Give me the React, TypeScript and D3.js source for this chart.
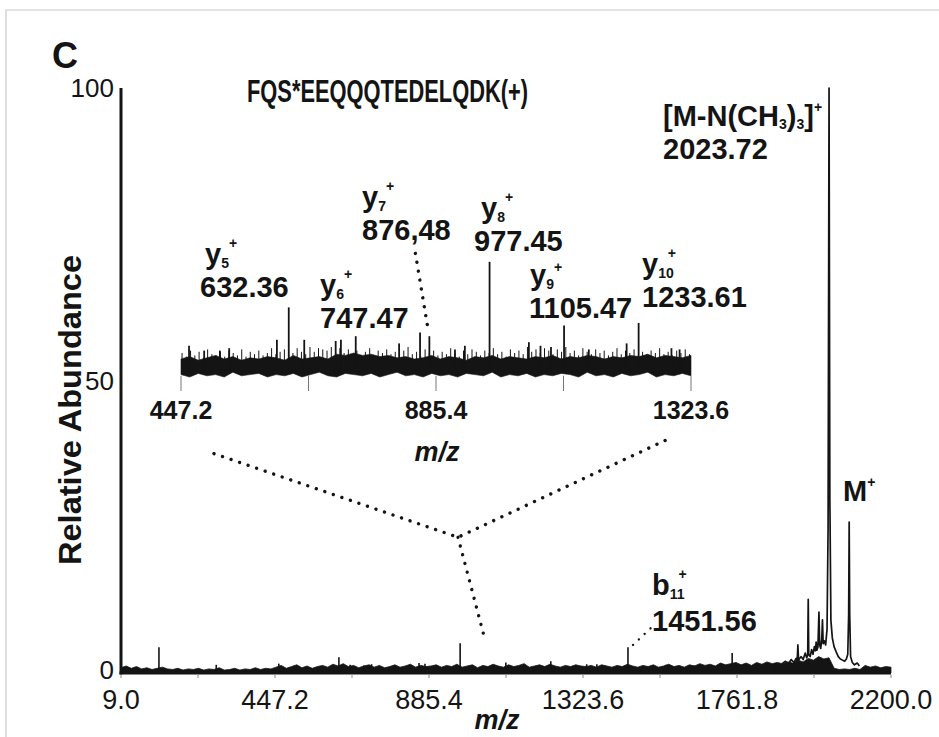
import React from 'react';
import * as d3 from 'd3';

const FONT = "'Liberation Sans', Arial, Helvetica, sans-serif";

// ---- axes ----
const xTicks = [9, 447.2, 885.4, 1323.6, 1761.8, 2200];
const xTickLabels = ['9.0', '447.2', '885.4', '1323.6', '1761.8', '2200.0'];
const xMinorTicks = [228.1, 666.3, 1104.5, 1542.7, 1980.9];
const yTicks = [0, 50, 100];
const yTickLabels = ['0', '50', '100'];
const insetTicks = [447.2, 666.3, 885.4, 1104.5, 1323.6];
const insetLabelTicks = [447.2, 885.4, 1323.6];
const insetLabels = ['447.2', '885.4', '1323.6'];

// ---- main spectrum: isolated peaks [m/z, %] ----
const mainSticks: [number, number][] = [
  [117, 4.4], [280, 1.4], [458, 1.6], [629, 2.7], [661, 1.4], [700, 1.3], [722, 1.5],
  [857, 1.7], [874, 1.6], [974, 5.1], [1104, 1.8], [1232, 2.0], [1334, 1.5], [1363, 1.5],
  [1451.56, 4.4], [1560, 1.4], [1640, 1.3], [1748, 3.4], [1820, 1.6], [1870, 1.7],
];

// ---- main spectrum: cluster profile near the precursor [m/z, %] ----
const clusterProfile: [number, number][] = [
  [1890, 1.6], [1900, 2.0], [1908, 1.5], [1916, 2.3], [1924, 1.8], [1930, 2.5], [1933, 2.0],
  [1935, 4.8], [1937, 2.2], [1944, 2.8], [1950, 2.3], [1956, 3.4], [1960, 2.6], [1963, 3.0],
  [1964.5, 12.6], [1966, 3.2], [1970, 2.8], [1974, 4.0], [1978, 3.2], [1982, 4.5], [1985, 3.8],
  [1987, 5.3], [1989, 3.9], [1992, 4.4], [1995, 10.4], [1997, 4.8], [2000, 4.2], [2003, 5.8],
  [2005, 9.1], [2007, 5.0], [2010, 5.5], [2014, 4.8], [2018, 7.5], [2021, 25], [2023.72, 100],
  [2026, 30], [2029, 9], [2033, 6.0], [2038, 4.5], [2044, 3.6], [2050, 2.8], [2056, 2.4],
  [2062, 2.2], [2068, 2.0], [2073, 2.4], [2077, 3.2], [2079.5, 10], [2081, 25.8], [2082.5, 10],
  [2085, 2.8], [2090, 1.8], [2096, 1.4], [2104, 1.7], [2110, 1.2],
];

// ---- main spectrum: baseline noise, evenly sampled from 9 to 2200 (%) ----
const mainNoise: number[] = [
  0.9, 1.2, 0.8, 1.1, 0.7, 0.9, 0.6, 0.8, 1.0, 0.7, 0.6, 0.8, 0.5, 0.7, 0.6, 0.8, 0.5, 0.7, 0.6, 0.9, 0.5, 0.6, 0.8, 0.5, 0.7, 0.6, 0.9, 0.6, 0.8, 0.7,
  1.0, 1.3, 0.8, 1.1, 1.4, 0.9, 1.2, 0.8, 1.1, 1.3, 1.0, 1.5, 1.2, 1.6, 1.1, 1.3, 0.9, 1.2, 1.4, 1.0, 1.3, 0.9, 1.1, 1.4, 1.0, 1.2, 1.5, 1.0, 1.3, 1.1,
  1.2, 1.4, 1.0, 1.3, 1.1, 1.5, 1.0, 1.2, 1.4, 0.9, 1.3, 1.1, 1.5, 1.2, 1.0, 1.4, 1.1, 1.3, 1.6, 1.0, 1.2, 1.4, 1.1, 1.5, 1.2, 1.0, 1.3, 1.1, 1.4, 1.2,
  1.1, 1.3, 1.0, 1.4, 1.2, 1.0, 1.3, 1.1, 1.5, 1.2, 1.0, 1.3, 1.1, 1.4, 1.0, 1.2, 1.5, 1.1, 1.3, 1.0, 1.4, 1.2, 1.6, 1.3, 1.5, 1.2, 1.7, 1.4, 1.6, 1.8,
  1.4, 1.7, 1.3, 1.8, 1.5, 1.9, 1.6, 1.8, 1.6, 1.9, 1.7, 2.2, 1.9, 2.5, 2.2, 2.8, 2.4, 2.6, 0.8, 0.6, 0.7, 0.6, 0.8, 0.6, 1.3, 1.0, 1.2, 0.9, 1.1, 1.0,
];

// ---- inset (447.2 - 1323.6) ----
const insetPeaks: [number, number][] = [
  [461, 26], [487, 22], [514, 22], [530, 24], [612, 31], [632.36, 58], [659, 31], [713, 30],
  [722, 31], [747.47, 34], [822, 28], [858, 37], [874, 34], [918, 23], [935, 26], [977.45, 96],
  [1045, 29], [1065, 26], [1083, 25], [1105.47, 43], [1148, 23], [1213, 28], [1233.61, 45],
  [1290, 24], [1304, 23],
];
// solid band (evenly sampled): upper edge and lower edge, %
const insetBandTop: number[] = [
  15, 17, 14, 16, 18, 15, 17, 14, 16, 15, 17, 16, 14, 18, 15, 16, 17, 15, 19, 18,
  20, 18, 19, 17, 18, 16, 17, 15, 16, 18, 15, 17, 16, 14, 17, 16, 18, 15, 17, 16,
  15, 17, 16, 18, 15, 17, 16, 18, 17, 15, 17, 16, 18, 17, 19, 16, 18, 17, 16, 18,
];
const insetBandBottom: number[] = [
  2, 0, 3, 1, 2, 0, 4, 1, 2, 3, 0, 2, 1, 3, 0, 2, 4, 1, 0, 3,
  2, 1, 3, 0, 2, 4, 1, 2, 0, 3, 1, 2, 0, 3, 2, 1, 4, 0, 2, 1,
  3, 0, 2, 1, 3, 2, 0, 4, 1, 2, 0, 3, 1, 2, 4, 0, 2, 1, 3, 1,
];
// hairline noise spikes above the band (evenly sampled), %
const insetSpikes: number[] = [
  20, 17, 22, 18, 21, 16, 23, 19, 18, 21, 17, 22, 20, 18, 23, 17, 21, 19, 22, 18,
  20, 24, 19, 21, 23, 22, 20, 24, 21, 19, 25, 21, 24, 23, 22, 25, 21, 24, 20, 23,
  19, 22, 18, 21, 24, 17, 22, 20, 23, 19, 21, 18, 22, 25, 19, 21, 17, 23, 20, 22,
  18, 21, 19, 24, 20, 17, 22, 19, 23, 21, 18, 22, 20, 24, 19, 21, 17, 23, 20, 22,
  19, 25, 21, 23, 20, 24, 22, 19, 23, 21, 25, 20, 22, 18, 24, 21, 19, 23, 20, 22,
  18, 21, 24, 19, 22, 20, 23, 18, 21, 19, 22, 20, 24, 19, 21, 18, 22, 20, 23, 19,
];

const INK = '#141414';

function IonLabel(props: {
  x: number; y: number; ion: string; sub: string; mass: string;
  ionDx?: number; gap?: number; plusDy?: number;
}) {
  const { x, y, ion, sub, mass, ionDx = 0, gap = 33, plusDy = -20 } = props;
  return (
    <g fontFamily={FONT} fontWeight="bold" fill={INK}>
      <text x={x + ionDx} y={y - gap} fontSize={29}>
        {ion}
        <tspan fontSize={14} dy={4}>{sub}</tspan>
        <tspan fontSize={14} dx={sub.length > 1 ? -6 : 0} dy={plusDy}>+</tspan>
      </text>
      <text x={x} y={y} fontSize={29}>{mass}</text>
    </g>
  );
}

export default function App() {
  const x = d3.scaleLinear().domain([9, 2200]).range([121, 891]);
  const y = d3.scaleLinear().domain([0, 100]).range([673, 88]);
  const ix = d3.scaleLinear().domain([447.2, 1323.6]).range([181, 691]);
  const iy = d3.scaleLinear().domain([0, 100]).range([377, 257]);

  const noiseIdx = d3.scaleLinear().domain([0, mainNoise.length - 1]).range([9, 2200]);
  const noiseArea = d3.area<number>()
    .x((_, i) => x(noiseIdx(i)))
    .y0(y(0))
    .y1((d) => y(d))(mainNoise) as string;
  const profile = d3.line<[number, number]>().x((d) => x(d[0])).y((d) => y(d[1]))(clusterProfile) as string;

  const bandIdx = d3.scaleLinear().domain([0, insetBandTop.length - 1]).range([447.2, 1323.6]);
  const band = d3.area<number>()
    .x((_, i) => ix(bandIdx(i)))
    .y0((_, i) => iy(insetBandBottom[i]))
    .y1((d) => iy(d))(insetBandTop) as string;
  const spikeIdx = d3.scaleLinear().domain([0, insetSpikes.length - 1]).range([449, 1321]);

  const dot = { stroke: INK, strokeWidth: 3.4, strokeDasharray: '0.01 9', strokeLinecap: 'round' as const, fill: 'none' };

  const zoomJoin: [number, number] = [x(968), y(23.2)];
  const zoomLeft: [number, number] = [x(273.6), y(37.5)];
  const zoomRight: [number, number] = [x(1577), y(40.3)];
  const zoomEnd: [number, number] = [x(1042), y(6.3)];

  return (
    <svg width={939} height={737} style={{ position: 'absolute', left: 0, top: 0, background: '#fff' }}>
      <rect x={0} y={0} width={939} height={737} fill="#fff" />
      <path d="M6,737 V10 H939" stroke="#c8c8c8" strokeWidth={1.2} fill="none" />

      {/* panel letter and title */}
      <text x={52} y={68} fontFamily={FONT} fontWeight="bold" fontSize={36} fill={INK}>C</text>
      <text x={247} y={102} fontFamily={FONT} fontWeight="bold" fontSize={31} fill={INK}
        textLength={281} lengthAdjust="spacingAndGlyphs">FQS*EEQQQTEDELQDK(+)</text>

      {/* main spectrum */}
      <path d={noiseArea} fill={INK} stroke={INK} strokeWidth={0.8} />
      {mainSticks.map(([m, v], i) => (
        <line key={i} x1={x(m)} x2={x(m)} y1={y(0)} y2={y(v)} stroke={INK} strokeWidth={1.6} />
      ))}
      <path d={profile} fill="none" stroke={INK} strokeWidth={1.7} strokeLinejoin="round" />

      {/* axes */}
      <line x1={x(9)} x2={x(9)} y1={y(0) + 1.5} y2={y(100)} stroke={INK} strokeWidth={3} />
      <line x1={x(9) - 1.5} x2={x(2200)} y1={y(0)} y2={y(0)} stroke={INK} strokeWidth={3.2} />
      {[...xTicks, ...xMinorTicks].map((t, i) => (
        <line key={i} x1={x(t)} x2={x(t)} y1={y(0) + 1.5} y2={y(0) + 5} stroke="#888" strokeWidth={1} />
      ))}
      {xTicks.map((t, i) => (
        <text key={i} x={x(t)} y={709} textAnchor="middle" fontFamily={FONT} fontSize={27} fill={INK}>{xTickLabels[i]}</text>
      ))}
      {yTicks.map((t, i) => (
        <text key={i} x={114} y={y(t) + (t === 0 ? 6 : 9)} textAnchor="end" fontFamily={FONT} fontSize={26} fill={INK}>{yTickLabels[i]}</text>
      ))}
      <text x={497} y={729} textAnchor="middle" fontFamily={FONT} fontWeight="bold" fontStyle="italic" fontSize={27} fill={INK}>m/z</text>
      <text transform="translate(81,410) rotate(-90)" textAnchor="middle" fontFamily={FONT} fontWeight="bold" fontSize={31}
        fill={INK} textLength={310} lengthAdjust="spacingAndGlyphs">Relative Abundance</text>

      {/* inset */}
      {insetSpikes.map((v, i) => (
        <line key={i} x1={ix(spikeIdx(i))} x2={ix(spikeIdx(i))} y1={iy(8)} y2={iy(v)} stroke={INK} strokeWidth={1} />
      ))}
      <path d={band} fill={INK} stroke={INK} strokeWidth={0.6} />
      {insetPeaks.map(([m, v], i) => (
        <line key={i} x1={ix(m)} x2={ix(m)} y1={iy(4)} y2={iy(v)} stroke={INK} strokeWidth={1.8} />
      ))}
      {insetTicks.map((t, i) => (
        <line key={i} x1={ix(t)} x2={ix(t)} y1={iy(1)} y2={iy(0) + 14} stroke="#777" strokeWidth={1} />
      ))}
      {insetLabelTicks.map((t, i) => (
        <text key={i} x={ix(t)} y={419} textAnchor="middle" fontFamily={FONT} fontWeight="bold" fontSize={25} fill={INK}>{insetLabels[i]}</text>
      ))}
      <text x={437} y={461} textAnchor="middle" fontFamily={FONT} fontWeight="bold" fontStyle="italic" fontSize={27} fill={INK}>m/z</text>

      {/* dotted leaders */}
      <path d={d3.line()([zoomLeft, zoomJoin, zoomRight]) as string} {...dot} />
      <path d={d3.line()([zoomJoin, zoomEnd]) as string} {...dot} />
      <path d={d3.line()([[ix(850), iy(103)], [ix(872), iy(39)]]) as string} {...dot} />
      <path d={d3.line()([[x(1466), y(4.8)], [x(1517), y(7.7)]]) as string} {...dot} strokeWidth={2.4} strokeDasharray="0.01 8" />

      {/* ion annotations */}
      <IonLabel x={200} y={297} ionDx={5} ion="y" sub="5" mass="632.36" />
      <IonLabel x={320} y={328} ion="y" sub="6" mass="747.47" />
      <IonLabel x={362} y={240} ion="y" sub="7" mass="876,48" />
      <IonLabel x={474} y={251} ionDx={7} ion="y" sub="8" mass="977.45" />
      <IonLabel x={529} y={318} ionDx={1} ion="y" sub="9" mass="1105.47" plusDy={-17} />
      <IonLabel x={642} y={307} ion="y" sub="10" mass="1233.61" />
      <IonLabel x={652} y={631} ion="b" sub="11" mass="1451.56" gap={36} />

      <g fontFamily={FONT} fontWeight="bold" fill={INK}>
        <text x={663} y={126} fontSize={29}>
          [M-N(CH<tspan fontSize={14} dy={3}>3</tspan><tspan dy={-3}>)</tspan><tspan fontSize={14} dy={3}>3</tspan><tspan dy={-3}>]</tspan><tspan fontSize={14} dy={-14}>+</tspan>
        </text>
        <text x={663} y={159} fontSize={29}>2023.72</text>
        <text x={843} y={501} fontSize={29}>M<tspan fontSize={14} dy={-14}>+</tspan></text>
      </g>
    </svg>
  );
}
